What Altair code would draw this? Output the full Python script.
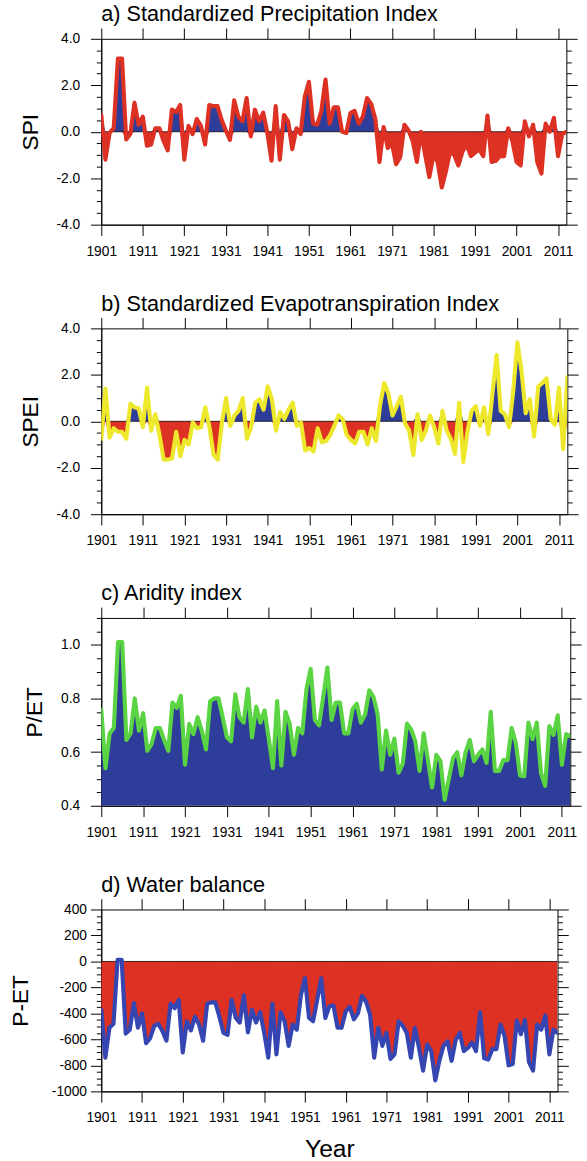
import altair as alt
import pandas as pd

years = list(range(1901, 2014))

spi = [0.72, -1.2, -0.05, 0.15, 3.15, 3.15, -0.33, -0.1, 1.25, 0.3,
       0.65, -0.6, -0.55, 0.15, 0.15, -0.4, -0.8, 0.95, 0.85, 1.15,
       -1.2, 0.25, -0.1, 0.55, 0.25, -0.55, 1.15, 1.1, 1.1, 0.5,
       0.05, -0.35, 1.35, 0.65, 0.45, 1.45, -0.2, 0.95, 0.45, 0.82,
       -0.05, -1.25, 1.1, -1.2, 0.72, 0.45, -0.75, 0.15, -0.1, 1.5,
       2.15, 0.35, 0.3, 0.9, 2.25, 0.35, 1.05, 1.05, 0.0, -0.05,
       0.8, 0.9, 0.35, 0.65, 1.45, 1.2, 0.55, -1.3, 0.2, -0.7,
       -0.5, -1.4, -1.1, 0.3, 0.05, -0.4, -1.3, 0.0, -1.0, -1.95,
       -1.0, -1.3, -2.4, -1.7, -0.85, -1.0, -1.45, -0.85, -0.55, -1.05,
       -0.9, -0.75, -1.05, 0.7, -1.3, -1.25, -1.05, -1.05, 0.15, -0.4,
       -1.3, -1.45, 0.45, -0.2, 0.3, -1.3, -1.8, 0.35, 0.0, 0.6,
       -1.05, -0.1, 0.0]

spei = [-0.75, 1.4, -0.7, -0.3, -0.45, -0.45, -0.75, 0.75, 0.6, 0.55,
        -0.25, 1.45, -0.4, 0.3, -0.6, -1.65, -1.65, -1.6, -0.45, -1.5,
        -0.8, -1.0, -0.05, -0.3, -0.25, 0.6, -0.25, -1.45, -1.65, -0.05,
        1.0, -0.2, 0.25, 0.45, 1.0, -0.75, -0.25, 0.8, 0.95, 0.5,
        1.5, 0.95, -0.4, 0.4, 0.1, 0.5, 0.8, -0.2, -0.05, -1.25,
        -1.15, -1.3, -0.3, -0.9, -0.85, -0.6, -0.2, 0.25, 0.1, -0.6,
        -0.8, -0.95, -0.45, -0.45, -1.0, -0.3, -0.85, 0.7, 1.65, 1.2,
        0.25, 0.65, 1.05, -0.1, -0.4, -1.45, 0.3, -0.8, -0.4, 0.25,
        -0.25, -0.95, 0.45, -0.4, -0.75, -1.4, 0.8, -1.75, -0.45, 0.45,
        0.65, -0.2, 0.6, -0.55, 1.2, 2.85, 0.45, 0.3, -0.25, 1.3,
        3.4, 2.15, 0.35, 0.95, -0.65, 1.5, 1.65, 1.85, 0.1, -0.15,
        1.45, -1.2, 1.9]

ai = [0.758, 0.54, 0.67, 0.69, 1.01, 1.01, 0.645, 0.67, 0.80, 0.68,
      0.745, 0.605, 0.63, 0.69, 0.69, 0.645, 0.605, 0.785, 0.765, 0.81,
      0.553, 0.705, 0.667, 0.73, 0.68, 0.61, 0.79, 0.80, 0.80, 0.73,
      0.655, 0.64, 0.815, 0.73, 0.71, 0.835, 0.655, 0.77, 0.71, 0.755,
      0.65, 0.54, 0.79, 0.55, 0.75, 0.705, 0.59, 0.69, 0.67, 0.835,
      0.91, 0.72, 0.70, 0.805, 0.915, 0.72, 0.785, 0.785, 0.67, 0.67,
      0.76, 0.78, 0.71, 0.74, 0.83, 0.805, 0.74, 0.535, 0.68, 0.59,
      0.65, 0.523, 0.557, 0.706, 0.684, 0.64, 0.53, 0.67, 0.57, 0.468,
      0.59, 0.566, 0.423, 0.50, 0.578, 0.60, 0.513, 0.60, 0.645, 0.566,
      0.59, 0.61, 0.56, 0.75, 0.53, 0.53, 0.57, 0.57, 0.69, 0.633,
      0.513, 0.51, 0.71, 0.648, 0.71, 0.523, 0.474, 0.697, 0.664, 0.737,
      0.553, 0.667, 0.66]

wb = [-372, -740, -510, -480, 12, 12, -555, -525, -320, -510,
      -400, -630, -590, -495, -480, -535, -610, -325, -360, -295,
      -700, -460, -530, -425, -485, -610, -325, -315, -315, -425,
      -550, -565, -295, -435, -470, -260, -545, -372, -470, -390,
      -550, -740, -325, -715, -392, -460, -650, -485, -525, -260,
      -130, -435, -460, -295, -130, -435, -345, -340, -510, -510,
      -385, -350, -445, -400, -265, -310, -410, -740, -510, -650,
      -550, -750, -715, -460, -495, -550, -740, -510, -665, -840,
      -640, -690, -915, -765, -650, -615, -765, -605, -550, -690,
      -665, -625, -690, -392, -745, -755, -675, -675, -485, -575,
      -800, -790, -455, -560, -450, -775, -840, -485, -525, -415,
      -715, -525, -550]

x_major = list(range(1901, 2012, 10))

BLUE = "#2E3D9A"
RED = "#DD3124"
YELLOW = "#EEE82C"
GREEN = "#5BD443"
LINEBLUE = "#3546B2"
FONT = "Liberation Sans"


def minor_values(lo, hi, step, major_step):
    out = []
    n = int(round((hi - lo) / step))
    for i in range(n + 1):
        v = round(lo + i * step, 4)
        if abs(round(v / major_step) * major_step - v) > 1e-6:
            out.append(v)
    return out


def panel(values, title, ytitle, title_x, ydom, ymajor, yminor, fmt,
          width, height, kind, line_color, label_pad, show_year=False):
    df = pd.DataFrame({"year": years, "v": values})
    df["pos"] = df["v"].clip(lower=0)
    df["neg"] = df["v"].clip(upper=0)
    df["base"] = ydom[0] if kind == "ai" else 0
    base = alt.Chart(df)
    xs = alt.Scale(domain=[1901, 2013], nice=False, zero=False)
    ys = alt.Scale(domain=ydom, nice=False, zero=False)
    lab = "(datum.value < 0 ? '-' : '') + format(abs(datum.value), '%s')" % fmt

    def X(axis=None):
        return alt.X("year:Q", scale=xs, axis=axis)

    def Y(field, axis=None):
        return alt.Y(field + ":Q", scale=ys, axis=axis)

    layers = []
    if kind == "split":
        layers.append(base.mark_area(color=BLUE, clip=True).encode(
            x=X(), y=Y("pos"), y2="base:Q"))
        layers.append(base.mark_area(color=RED, clip=True).encode(
            x=X(), y=Y("neg"), y2="base:Q"))
    elif kind == "ai":
        layers.append(base.mark_area(color=BLUE, clip=True).encode(
            x=X(), y=Y("v"), y2="base:Q"))
    else:
        layers.append(base.mark_area(color=RED, clip=True).encode(
            x=X(), y=Y("v"), y2="base:Q"))

    if kind != "ai":
        layers.append(base.mark_line(color="black", strokeWidth=0.8, clip=True).encode(
            x=X(), y=Y("base")))

    layers.append(base.mark_line(color=line_color, strokeWidth=4.2, strokeJoin="round",
                                 strokeCap="round", clip=True).encode(
        x=X(), y=Y("v")))

    # axes
    xaxis_kw = dict(orient="bottom", values=x_major, format="d", tickSize=11,
                    labelPadding=9, grid=False, labelOverlap=False, labelFlush=False)
    if show_year:
        xaxis_kw.update(title="Year", titleFontSize=25, titleX=width / 2, titleY=66,
                        titleBaseline="alphabetic", titleAlign="center")
    else:
        xaxis_kw.update(title="")
    layers.append(base.mark_point(opacity=0).encode(
        x=X(alt.Axis(**xaxis_kw)),
        y=Y("v", alt.Axis(
            orient="left", values=ymajor, labelExpr=lab, tickSize=11,
            labelPadding=label_pad, grid=False, title=ytitle, titleX=title_x,
            titleY=height / 2, titleAngle=270, titleAlign="center",
            titleBaseline="middle", titleFontSize=23, labelOverlap=False,
            labelFlush=False))))
    layers.append(base.mark_point(opacity=0).encode(
        x=X(alt.Axis(orient="top", values=x_major, labels=False, tickSize=11,
                     grid=False, title="", domain=False)),
        y=Y("v", alt.Axis(orient="left", values=yminor, labels=False, tickSize=5,
                          grid=False, title="", domain=False))))
    layers.append(base.mark_point(opacity=0).encode(
        x=X(),
        y=Y("v", alt.Axis(orient="right", values=ymajor, labels=False, tickSize=11,
                          grid=False, title="", domain=False))))
    layers.append(base.mark_point(opacity=0).encode(
        x=X(),
        y=Y("v", alt.Axis(orient="right", values=yminor, labels=False, tickSize=5,
                          grid=False, title="", domain=False))))

    return alt.layer(*layers).resolve_axis(x="independent", y="independent").properties(
        width=width, height=height,
        title=alt.TitleParams(title, anchor="start", frame="group", fontSize=22,
                              font=FONT, fontWeight="normal", color="black", offset=1.5))


pa = panel(spi, "a) Standardized Precipitation Index", "SPI", -72, [-4, 4],
           [-4, -2, 0, 2, 4], minor_values(-4, 4, 0.5, 2), ".1f",
           473, 189, "split", RED, 11)
pb = panel(spei, "b) Standardized Evapotranspiration Index", "SPEI", -72, [-4, 4],
           [-4, -2, 0, 2, 4], minor_values(-4, 4, 0.5, 2), ".1f",
           474, 189, "split", YELLOW, 11)
pc = panel(ai, "c) Aridity index", "P/ET", -68, [0.4, 1.1],
           [0.4, 0.6, 0.8, 1.0], minor_values(0.4, 1.1, 0.05, 0.2), ".1f",
           477, 191, "ai", GREEN, 11)
pd_ = panel(wb, "d) Water balance", "P-ET", -82, [-1000, 400],
            list(range(-1000, 401, 200)), minor_values(-1000, 400, 50, 200), "d",
            464, 185, "wb", LINEBLUE, 4, show_year=True)

chart = alt.vconcat(pa, pb, pc, pd_, spacing=33.5).properties(
    padding={"left": 9, "top": -7.5, "right": 5, "bottom": 0},
    background="white",
).configure_view(stroke="black", strokeWidth=1).configure_axis(
    domainColor="black", tickColor="black", labelColor="black", labelFont=FONT,
    labelFontSize=14, titleFont=FONT, titleColor="black", titleFontWeight="normal",
    domainWidth=1, tickWidth=1, grid=False)

chart.save("out.html", embed_options={"renderer": "svg", "actions": False})
